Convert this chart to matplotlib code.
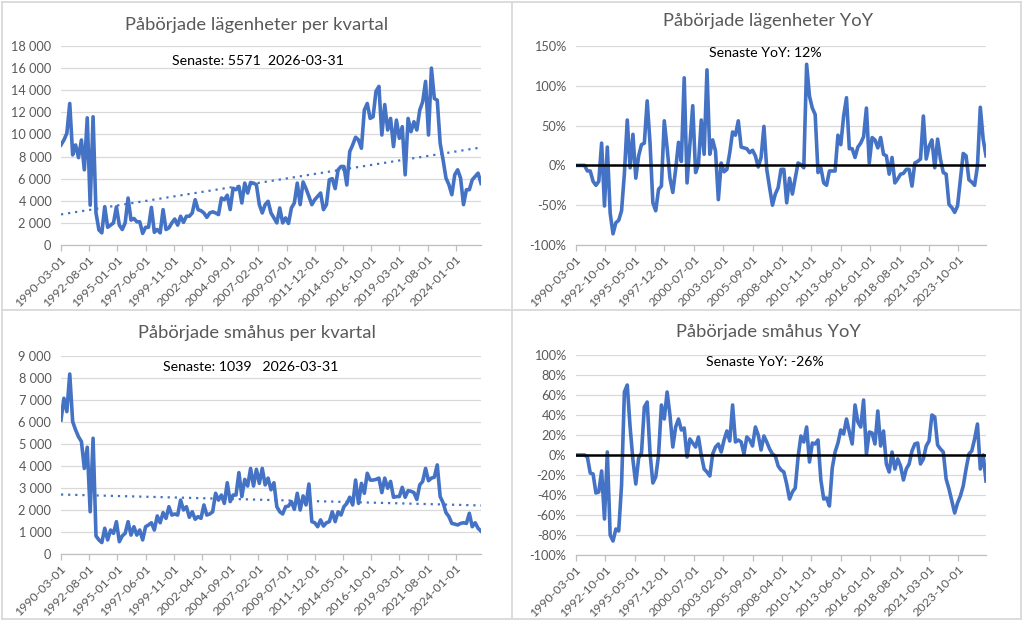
import numpy as np
import matplotlib
matplotlib.use("Agg")
import matplotlib.pyplot as plt
from matplotlib.lines import Line2D
from matplotlib.ticker import FuncFormatter, MultipleLocator, FixedLocator

plt.rcParams['font.family'] = ['Lato', 'DejaVu Sans']

# ---------------- data (quarterly, 1990-03 .. 2026-03) ----------------
lagenheter = [
    9050, 9500, 10100, 12800, 8150, 9050, 7900, 9500, 6800, 11500,
    3600, 11600, 2900, 1360, 1100, 3470, 1600, 1800, 2000, 3450,
    1800, 1400, 2000, 4250, 2250, 2400, 2100, 2100, 1050, 1600,
    1600, 3400, 1150, 1400, 1100, 3200, 1400, 1550, 2000, 2350,
    1800, 2600, 2050, 2600, 2600, 2900, 4100, 3200, 3100, 2900,
    2500, 2900, 3000, 2900, 2750, 4250, 4100, 4500, 3200, 5130,
    5000, 5300, 3800, 5600, 4700, 5650, 5600, 5450, 3650, 2900,
    3650, 3950, 2900, 2450, 2000, 3350, 2000, 2450, 1950, 3350,
    3800, 5600, 3650, 5700, 5100, 4400, 3650, 4100, 4400, 4700,
    3200, 3650, 5900, 6000, 5100, 6800, 7100, 7100, 5430, 8450,
    9050, 9750, 9500, 8750, 12200, 12800, 11450, 11600, 13900, 14350,
    9950, 12700, 10400, 11450, 8900, 11300, 9650, 10700, 6350, 11450,
    10250, 11150, 10400, 12200, 12950, 14800, 9950, 16000, 13250, 13100,
    9200, 7700, 6050, 5450, 4550, 6350, 6800, 6050, 3650, 5000,
    5000, 5900, 6200, 6500, 5571]

smahus = [
    6090, 7080, 6470, 8180, 6020, 5640, 5330, 5110, 3890, 4850,
    1920, 5260, 820, 640, 520, 1170, 640, 1090, 940, 1470,
    560, 820, 940, 1470, 860, 1240, 860, 1090, 640, 1240,
    1320, 1420, 1090, 1730, 1420, 1880, 1620, 2150, 1770, 1820,
    1770, 2450, 2000, 2150, 1670, 1920, 1580, 1700, 1620, 2230,
    1770, 1820, 1920, 2760, 2450, 2680, 2300, 3240, 2380, 2680,
    2680, 3700, 2610, 3390, 3090, 3890, 3090, 3850, 3210, 3890,
    3140, 3450, 2920, 3240, 2150, 1920, 1820, 2150, 2180, 2380,
    2030, 2760, 2000, 2640, 2230, 3180, 1470, 1420, 1240, 1550,
    1270, 1420, 1470, 1920, 1470, 1920, 1770, 2150, 2300, 2580,
    2230, 3360, 2300, 3210, 2760, 3670, 3360, 3360, 3390, 3450,
    2790, 3450, 2990, 3300, 2580, 2610, 2610, 3030, 2580, 2880,
    2850, 2790, 2480, 3140, 3300, 3890, 3330, 3450, 3490, 4050,
    2610, 2330, 1880, 1700, 1390, 1360, 1320, 1390, 1420, 1390,
    1850, 1240, 1420, 1170, 1039]

lagenheter_yoy_pct = [
    0, 0, 0, 0, -7, -7, -20, -25, -20, 28,
    -51, 23, -60, -86, -72, -69, -57, -10, 57, -3,
    39, -16, 12, 26, 28, 81, 28, -47, -57, -30,
    -26, 56, 22, -16, -34, -5, 29, 5, 110, -22,
    26, 75, -9, 1, 57, 14, 120, 14, 32, 18,
    -43, 3, -8, -5, 16, 42, 38, 56, 23, 22,
    21, 16, 19, 12, -2, 10, 49, -5, -28, -50,
    -36, -28, -5, -5, -47, -16, -36, -16, 3, 1,
    -3, 127, 87, 72, 64, -9, -3, -22, -25, -7,
    -7, -7, 38, 26, 62, 85, 21, 21, 10, 23,
    28, 36, 72, 3, 35, 32, 22, 35, 14, 12,
    -11, 10, -22, -17, -11, -10, -5, -5, -26, 3,
    5, 8, 62, 8, 24, 32, -3, 33, 8, -9,
    -11, -49, -53, -59, -51, -18, 15, 12, -18, -21,
    -25, -1, 73, 33, 12]

smahus_yoy_pct = [
    0, 0, 0, 0, -2, -18, -19, -38, -37, -16,
    -64, 3, -80, -86, -74, -76, -30, 63, 70, 28,
    -5, -29, -3, 2, 48, 53, 2, -28, -22, 0,
    50, 36, 63, 40, 8, 28, 36, 25, 27, -2,
    16, 12, 8, 18, 0, -14, -17, -21, 1, 8,
    11, 3, 15, 24, 14, 50, 13, 15, 13, 1,
    18, 15, 9, 28, 20, 5, 19, 13, 6, 1,
    -1, -11, -15, -17, -29, -44, -37, -33, -2, 19,
    13, 28, -7, 12, 11, 15, -25, -44, -43, -51,
    -13, 3, 12, 25, 21, 36, 23, 11, 50, 33,
    28, 55, 1, 23, 22, 11, 44, 9, 24, -9,
    -17, 3, -14, -4, -11, -25, -14, -9, 4, 11,
    12, -9, -4, 9, 14, 40, 38, 10, 6, 3,
    -24, -34, -46, -58, -48, -41, -31, -14, 1, 4,
    16, 31, -14, 0, -26]

left_tick_labels = ["1990-03-01", "1992-08-01", "1995-01-01", "1997-06-01",
                    "1999-11-01", "2002-04-01", "2004-09-01", "2007-02-01",
                    "2009-07-01", "2011-12-01", "2014-05-01", "2016-10-01",
                    "2019-03-01", "2021-08-01", "2024-01-01"]
right_tick_labels = ["1990-03-01", "1992-10-01", "1995-05-01", "1997-12-01",
                     "2000-07-01", "2003-02-01", "2005-09-01", "2008-04-01",
                     "2010-11-01", "2013-06-01", "2016-01-01", "2018-08-01",
                     "2021-03-01", "2023-10-01"]
start_year, start_month = 1990, 3
last_date = "2026-03-31"

titles = ["Påbörjade lägenheter per kvartal", "Påbörjade lägenheter YoY",
          "Påbörjade småhus per kvartal", "Påbörjade småhus YoY"]

# ---------------- helpers ----------------
W, H = 1024, 622
BLUE = "#4472C4"
GRAY_TXT = "#595959"
GRID = "#D9D9D9"
AXL = "#BFBFBF"

def month_index(label):
    y, m = int(label[:4]), int(label[5:7])
    return (y - start_year) * 12 + (m - start_month)

n = len(lagenheter)
months = np.arange(n) * 3
xmax = months[-1]

fig = plt.figure(figsize=(W / 100, H / 100), dpi=100)
fig.patch.set_facecolor("white")

def add_ax(x0, y0, x1, y1):
    return fig.add_axes([x0 / W, 1 - y1 / H, (x1 - x0) / W, (y1 - y0) / H])

def style(ax, ticklabels, ylo, yhi, step, fmt):
    ax.set_xlim(0, xmax)
    ax.set_ylim(ylo, yhi)
    ax.yaxis.set_major_locator(MultipleLocator(step))
    ax.yaxis.set_major_formatter(FuncFormatter(fmt))
    ax.yaxis.grid(True, color=GRID, lw=0.9)
    ax.set_axisbelow(True)
    for s in ["top", "right", "left"]:
        ax.spines[s].set_visible(False)
    ax.spines["bottom"].set_color(AXL)
    ax.spines["bottom"].set_linewidth(0.9)
    ax.tick_params(axis="y", length=0, labelsize=9.2, labelcolor=GRAY_TXT, pad=7)
    ax.tick_params(axis="x", length=4, color=AXL, width=0.9,
                   labelsize=8.9, labelcolor=GRAY_TXT, pad=2)
    ax.xaxis.set_major_locator(FixedLocator([month_index(t) for t in ticklabels]))
    ax.set_xticklabels(ticklabels, rotation=45, ha="right", va="top",
                       rotation_mode="anchor")

def fmt_thousands(v, pos):
    return f"{v:,.0f}".replace(",", " ")

def fmt_pct(v, pos):
    return f"{v * 100:.0f}%"

LW = 2.6

# ---- top-left: lägenheter level ----
ax1 = add_ax(61, 46, 481, 245)
style(ax1, left_tick_labels, 0, 18000, 2000, fmt_thousands)
ax1.plot(months, lagenheter, color=BLUE, lw=LW, solid_joinstyle="round")
c1 = np.polyfit(months, lagenheter, 1)
ax1.plot(months, np.polyval(c1, months), color=BLUE, lw=1.6, ls=(0, (1, 2.2)))

# ---- top-right: lägenheter YoY ----
ax2 = add_ax(576, 46, 986, 245)
style(ax2, right_tick_labels, -1.0, 1.5, 0.5, fmt_pct)
ax2.plot(months, np.array(lagenheter_yoy_pct) / 100, color=BLUE, lw=LW,
         solid_joinstyle="round")
ax2.axhline(0, color="black", lw=1.8, zorder=3)

# ---- bottom-left: småhus level ----
ax3 = add_ax(61, 356, 481, 554)
style(ax3, left_tick_labels, 0, 9000, 1000, fmt_thousands)
ax3.plot(months, smahus, color=BLUE, lw=LW, solid_joinstyle="round")
c3 = np.polyfit(months, smahus, 1)
ax3.plot(months, np.polyval(c3, months), color=BLUE, lw=1.6, ls=(0, (1, 2.2)))

# ---- bottom-right: småhus YoY ----
ax4 = add_ax(576, 355, 986, 555)
style(ax4, right_tick_labels, -1.0, 1.0, 0.2, fmt_pct)
ax4.plot(months, np.array(smahus_yoy_pct) / 100, color=BLUE, lw=LW,
         solid_joinstyle="round")
ax4.axhline(0, color="black", lw=1.8, zorder=3)

# ---- titles and annotations ----
def ftext(x, y, s, size, color, **kw):
    fig.text(x / W, 1 - y / H, s, fontsize=size, color=color,
             ha="center", va="center", **kw)

ftext(257, 25, titles[0], 13.2, GRAY_TXT)
ftext(768, 21, titles[1], 13.2, GRAY_TXT)
ftext(257, 333, titles[2], 13.2, GRAY_TXT)
ftext(768, 332, titles[3], 13.2, GRAY_TXT)

ftext(258, 61, f"Senaste: {lagenheter[-1]}  {last_date}", 10.2, "black")
ftext(765, 53, f"Senaste YoY: {lagenheter_yoy_pct[-1]}%", 10.2, "black")
ftext(251, 367, f"Senaste: {smahus[-1]}   {last_date}", 10.2, "black")
ftext(765, 362, f"Senaste YoY: {smahus_yoy_pct[-1]}%", 10.2, "black")

# ---- panel borders ----
def fline(x0, y0, x1, y1):
    fig.add_artist(Line2D([x0 / W, x1 / W], [1 - y0 / H, 1 - y1 / H],
                          color=GRID, lw=1.3))

fline(2, 2, 1021, 2)
fline(2, 619, 1021, 619)
fline(2, 2, 2, 619)
fline(1021, 2, 1021, 619)
fline(512, 2, 512, 619)
fline(2, 310, 1021, 310)

fig.savefig("out.png", dpi=100, facecolor="white")
